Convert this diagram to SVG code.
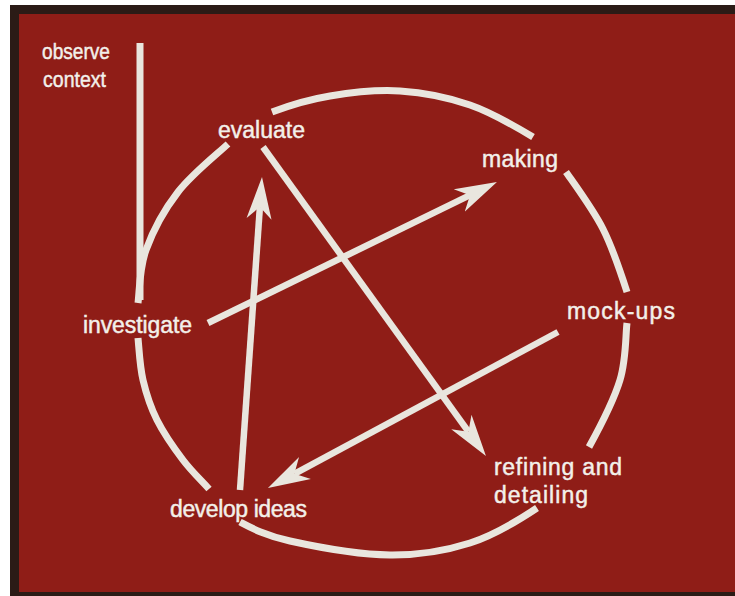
<svg xmlns="http://www.w3.org/2000/svg" width="735" height="596" viewBox="0 0 735 596">
<style>
.lbl{font-family:"Liberation Sans",Arial,sans-serif;font-size:23px;fill:#f3f0ea;stroke:#f3f0ea;stroke-width:0.45px}
.sm{font-size:22px}
.arc{fill:none;stroke:#e9e6de;stroke-width:7;stroke-linecap:butt}
.con{fill:none;stroke:#e9e6de;stroke-width:6.5;stroke-linecap:butt}
.frame{fill:#2b1b16}
</style>
<defs>
<marker id="ah" markerUnits="userSpaceOnUse" markerWidth="44" markerHeight="28" viewBox="0 -14 44 28" refX="12" refY="0" orient="auto">
<path d="M42,0 L0,-12.5 L12,0 L0,12.5 Z" fill="#e9e6de"/>
</marker>
</defs>
<rect x="0" y="0" width="735" height="596" fill="#8f1d17"/>
<rect x="0" y="0" width="735" height="5" fill="#ffffff"/>
<rect x="0" y="0" width="10" height="596" fill="#ffffff"/>
<rect class="frame" x="10" y="5" width="725" height="9"/>
<rect class="frame" x="10" y="5" width="9" height="591"/>
<rect class="frame" x="10" y="592" width="725" height="4"/>
<g id="cycle">
<path class="arc" d="M272,112 C285.3,107 308.7,99.5 330,96 C351.3,92.5 376.7,89.5 400,91 C423.3,92.5 447.8,97.3 470,105 C492.2,112.7 519.7,129 533,137"/>
<path class="arc" d="M566,172 C574.8,184.7 592.8,209 603,229 C613.2,249 622.7,278.8 627,292"/>
<path class="arc" d="M627,323 C625.5,335 626.3,359.3 620,380 C613.7,400.7 598.2,430.3 589,447"/>
<path class="arc" d="M537,508 C521.2,518.5 494.5,535.2 470,543 C445.5,550.8 420,555.3 390,555 C360,554.7 315,546.5 290,541 C265,535.5 251,527.8 240,522"/>
<path class="arc" d="M209,489 C202.2,481.3 191.7,471.5 183,460 C174.3,448.5 163.7,433.3 157,420 C150.3,406.7 146.2,393.7 143,380 C139.8,366.3 139,348 138,338"/>
<path class="arc" d="M138,303 C139.5,291.3 139.3,268.5 146,250 C152.7,231.5 164.3,209.7 178,192 C191.7,174.3 216,155 228,144"/>
<line class="arc" x1="140" y1="43" x2="140" y2="300"/>
</g>
<g id="connectors">
<line class="con" x1="208" y1="323" x2="470" y2="195.2" marker-end="url(#ah)"/>
<line class="con" x1="263" y1="147" x2="468.4" y2="431.7" marker-end="url(#ah)"/>
<line class="con" x1="558" y1="332" x2="294.4" y2="473.8" marker-end="url(#ah)"/>
<line class="con" x1="240" y1="490" x2="259.9" y2="206.9" marker-end="url(#ah)"/>
</g>
<g id="observe-context"><text class="lbl sm" x="42" y="59" textLength="68" lengthAdjust="spacingAndGlyphs">observe</text><text class="lbl sm" x="43" y="87" textLength="63" lengthAdjust="spacingAndGlyphs">context</text></g>
<g id="evaluate"><text class="lbl" x="218" y="138" textLength="87">evaluate</text></g>
<g id="making"><text class="lbl" x="482" y="167" textLength="76">making</text></g>
<g id="investigate"><text class="lbl" x="83" y="333" textLength="109">investigate</text></g>
<g id="mock-ups"><text class="lbl" x="567" y="319" textLength="108">mock-ups</text></g>
<g id="develop-ideas"><text class="lbl" x="170" y="517" textLength="137">develop ideas</text></g>
<g id="refining-detailing"><text class="lbl" x="494" y="475" textLength="128">refining and</text><text class="lbl" x="494" y="503" textLength="94">detailing</text></g>
</svg>
